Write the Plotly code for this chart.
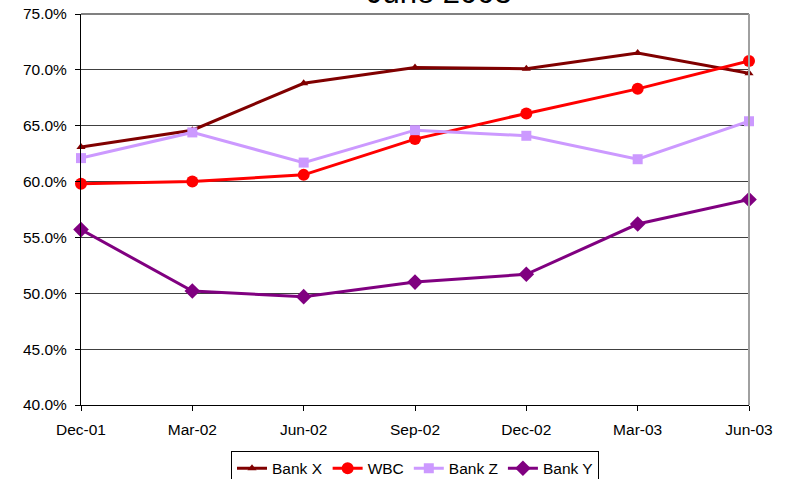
import plotly.graph_objects as go

quarters = ["Dec-01", "Mar-02", "Jun-02", "Sep-02", "Dec-02", "Mar-03", "Jun-03"]
bank_x = [63.1, 64.6, 68.8, 70.2, 70.1, 71.5, 69.7]
wbc = [59.8, 60.0, 60.6, 63.8, 66.1, 68.3, 70.8]
bank_z = [62.1, 64.4, 61.7, 64.6, 64.1, 62.0, 65.4]
bank_y = [55.7, 50.2, 49.7, 51.0, 51.7, 56.2, 58.4]
y_ticks = [40, 45, 50, 55, 60, 65, 70, 75]
y_tick_labels = [f"{v:.1f}%" for v in y_ticks]

series = [
    ("Bank X", bank_x, "#800000", "triangle-up", 8),
    ("WBC", wbc, "#FF0000", "circle", 12),
    ("Bank Z", bank_z, "#CC99FF", "square", 10),
    ("Bank Y", bank_y, "#800080", "diamond", 12),
]

fig = go.Figure()
for name, vals, color, sym, size in series:
    fig.add_trace(go.Scatter(
        x=quarters, y=vals, name=name, mode="lines+markers",
        line=dict(color=color, width=3),
        marker=dict(symbol=sym, size=size, color=color),
        cliponaxis=False,
    ))

fig.update_layout(
    width=786, height=479,
    margin=dict(l=81, r=37, t=14, b=74, autoexpand=False),
    paper_bgcolor="white", plot_bgcolor="white",
    font=dict(family="Liberation Sans, Arial, sans-serif", size=15.5, color="black"),
    showlegend=True,
    legend=dict(
        orientation="h", x=0.5, xanchor="center", y=-0.117, yanchor="top",
        bordercolor="black", borderwidth=1, bgcolor="white",
        font=dict(size=15.5), itemwidth=30, tracegroupgap=0,
    ),
    xaxis=dict(
        type="category", range=[0, 6], showgrid=False,
        showline=True, linecolor="black", linewidth=1,
        ticks="outside", ticklen=5, tickcolor="black",
        ticklabelstandoff=5, zeroline=False,
    ),
    yaxis=dict(
        range=[40, 75], tickvals=y_ticks, ticktext=y_tick_labels,
        showgrid=True, gridcolor="#404040", gridwidth=1,
        showline=True, linecolor="black", linewidth=1,
        ticks="outside", ticklen=5, tickcolor="black", zeroline=False,
        ticklabelstandoff=5,
    ),
    shapes=[
        dict(type="line", xref="paper", yref="paper", x0=0, x1=1, y0=1, y1=1,
             line=dict(color="#808080", width=2)),
        dict(type="line", xref="paper", yref="paper", x0=1, x1=1, y0=0, y1=1,
             line=dict(color="#A0A0A0", width=2)),
    ],
    annotations=[
        dict(text="June 2003", xref="paper", yref="paper", x=0.536, y=1.006,
             xanchor="center", yanchor="bottom", showarrow=False,
             font=dict(size=31, color="black")),
    ],
)

fig.write_html("out.html")
